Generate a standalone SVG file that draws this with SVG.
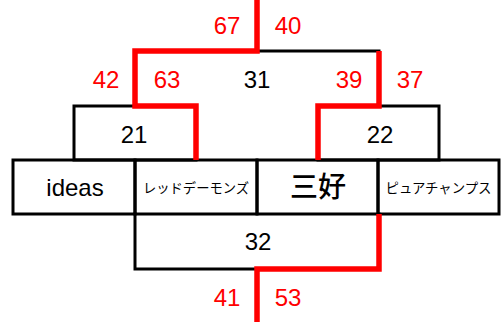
<svg xmlns="http://www.w3.org/2000/svg" width="501" height="322" viewBox="0 0 501 322">
<style>
.box{fill:none;stroke:#000;stroke-width:3;stroke-linecap:square}
.red{fill:none;stroke:#f00;stroke-width:5.5;stroke-linejoin:miter;stroke-linecap:butt}
.n{font-family:"Liberation Sans","Noto Sans CJK JP",sans-serif;font-size:24px;text-anchor:middle}
.r{fill:#f00}
.k{fill:#000}
.jp{font-family:"Noto Sans CJK JP",sans-serif;font-size:13.5px;text-anchor:middle;fill:#000}
</style>
<rect width="501" height="322" fill="#fff"/>
<g id="node-31"><path class="box" d="M135,106 V51 H379 V106"/><text class="n k" x="257" y="88">31</text></g>
<g id="node-21"><rect class="box" x="74" y="106" width="122" height="54"/><text class="n k" x="134" y="143">21</text></g>
<g id="node-22"><rect class="box" x="318" y="106" width="121" height="54"/><text class="n k" x="380" y="143">22</text></g>
<g id="node-ideas"><rect class="box" x="13" y="160" width="122" height="54"/><text class="n k" x="75" y="196">ideas</text></g>
<g id="node-red"><rect class="box" x="135" y="160" width="122" height="54"/><text class="jp" x="196" y="193" textLength="106" lengthAdjust="spacingAndGlyphs">レッドデーモンズ</text></g>
<g id="node-miyoshi"><rect class="box" x="257" y="160" width="121" height="54"/><text class="jp" x="318" y="197" style="font-size:28px;font-weight:500">三好</text></g>
<g id="node-pure"><rect class="box" x="378" y="160" width="121" height="54"/><text class="jp" x="438.5" y="193" textLength="106" lengthAdjust="spacingAndGlyphs">ピュアチャンプス</text></g>
<g id="node-32"><path class="box" d="M135,214 V269 H379 V214"/><text class="n k" x="258" y="250">32</text></g>
<g id="connectors">
<path class="red" d="M257,0 V51 H135 V106 H196 V160"/>
<path class="red" d="M379,51 V106 H318 V160"/>
<path class="red" d="M379,214 V269 H257 V322"/>
</g>
<g id="labels">
<text class="n r" x="227" y="34">67</text>
<text class="n r" x="288" y="34">40</text>
<text class="n r" x="106" y="88">42</text>
<text class="n r" x="167" y="88">63</text>
<text class="n r" x="349" y="88">39</text>
<text class="n r" x="410" y="88">37</text>
<text class="n r" x="227" y="306">41</text>
<text class="n r" x="288" y="306">53</text>
</g>
</svg>
